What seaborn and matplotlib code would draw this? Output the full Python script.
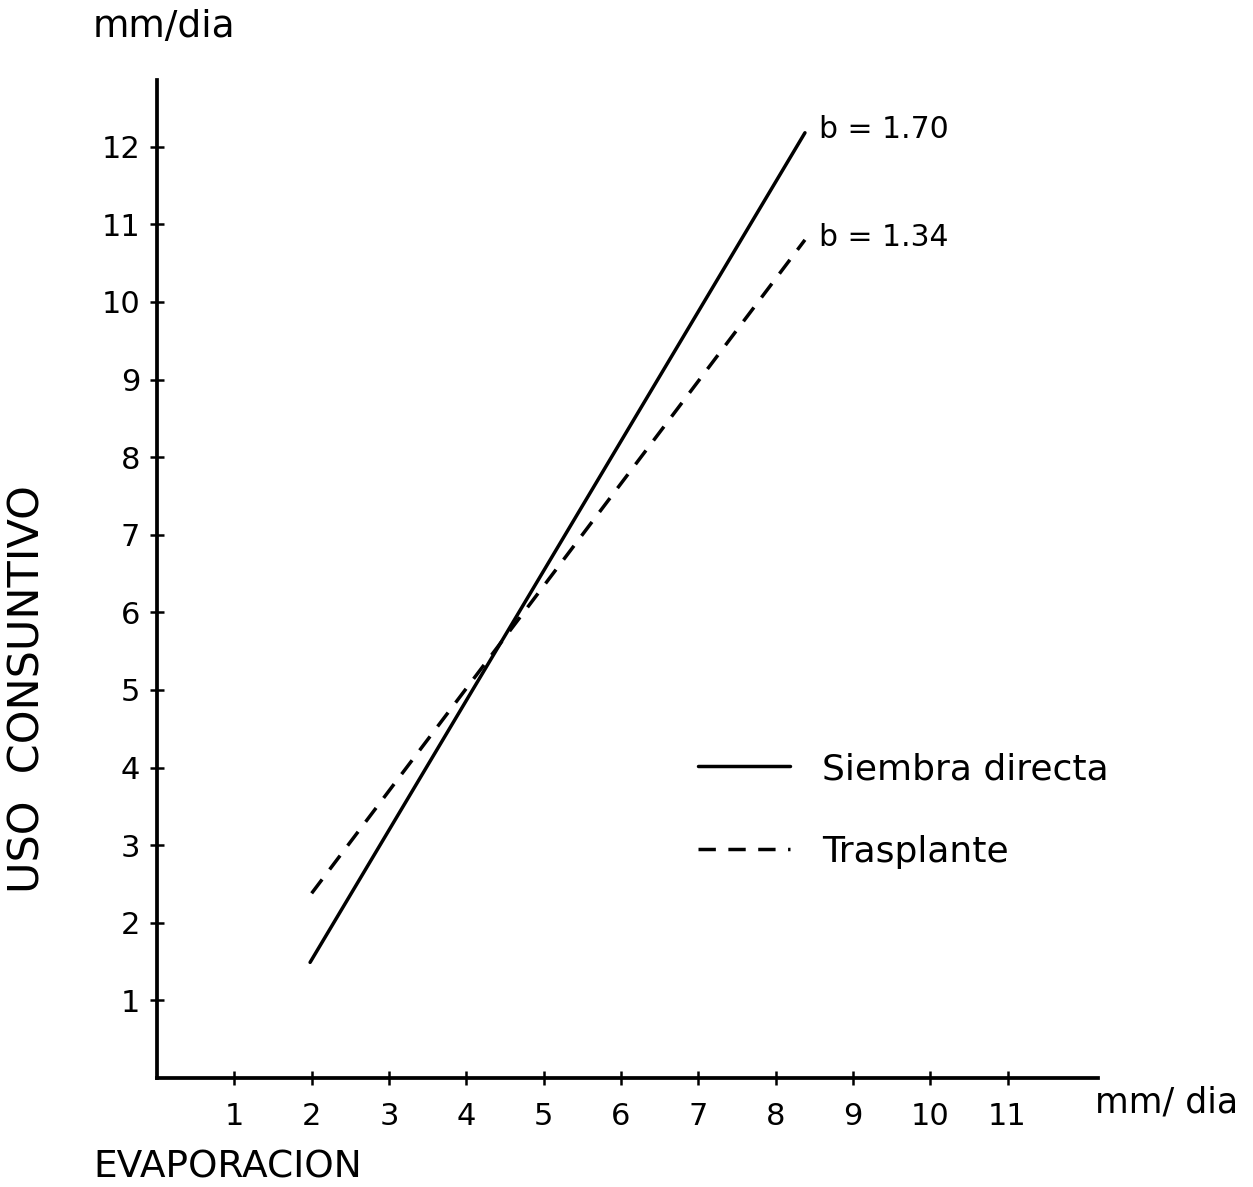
import numpy as np
import pandas as pd
import matplotlib
matplotlib.use("Agg")
import matplotlib.pyplot as plt
import seaborn as sns

# ---- data ----
series_names = ["Siembra directa", "Trasplante"]
evap_siembra = [1.98, 8.38]
uso_siembra = [1.49, 12.18]
evap_trasplante = [2.00, 8.38]
uso_trasplante = [2.38, 10.80]
slope_labels = ["b = 1.70", "b = 1.34"]
x_ticks = [1, 2, 3, 4, 5, 6, 7, 8, 9, 10, 11]
y_ticks = [1, 2, 3, 4, 5, 6, 7, 8, 9, 10, 11, 12]

df = pd.DataFrame({
    "Evaporacion": evap_siembra + evap_trasplante,
    "Uso": uso_siembra + uso_trasplante,
    "Serie": [series_names[0]] * len(evap_siembra) + [series_names[1]] * len(evap_trasplante),
})

sns.set_theme(style="white")
plt.rcParams["font.family"] = ["DejaVu Sans"]
plt.rcParams["text.color"] = "black"
plt.rcParams["axes.labelcolor"] = "black"
plt.rcParams["xtick.color"] = "black"
plt.rcParams["ytick.color"] = "black"

W, H = 1253, 1187
fig = plt.figure(figsize=(W / 100, H / 100), dpi=100)
fig.patch.set_facecolor("white")

def fx(x):
    return x / W

def fy(y):
    return 1 - y / H

ax = fig.add_axes([fx(157), fy(1078), (1098 - 157) / W, (1078 - 80) / H])
ax.set_facecolor("white")

sns.lineplot(data=df, x="Evaporacion", y="Uso", style="Serie",
             dashes={series_names[0]: "", series_names[1]: (5, 3.6)},
             color="black", linewidth=2.5, ax=ax, legend=True)

ax.set_xlim(0, 12.17)
ax.set_ylim(0, 12.86)
ax.set_xticks(x_ticks)
ax.set_yticks(y_ticks)
ax.set_xticklabels([str(v) for v in x_ticks])
ax.set_yticklabels([str(v) for v in y_ticks])
ax.set_xlabel("")
ax.set_ylabel("")
for s in ["top", "right"]:
    ax.spines[s].set_visible(False)
for s in ["left", "bottom"]:
    ax.spines[s].set_color("black")
    ax.spines[s].set_linewidth(2.7)
ax.tick_params(axis="both", which="major", bottom=True, left=True,
               direction="inout", length=10, width=1.8,
               colors="black", labelcolor="black", labelsize=22)
ax.tick_params(axis="x", pad=12)
ax.tick_params(axis="y", pad=7)
ax.grid(False)

# slope labels at the line ends
ax.annotate(slope_labels[0], xy=(evap_siembra[-1], uso_siembra[-1]),
            xytext=(10, 2), textcoords="offset points", fontsize=21.5,
            ha="left", va="center", color="black")
ax.annotate(slope_labels[1], xy=(evap_trasplante[-1], uso_trasplante[-1]),
            xytext=(10, 2), textcoords="offset points", fontsize=21.5,
            ha="left", va="center", color="black")

# legend
handles, labels = ax.get_legend_handles_labels()
leg = ax.legend(handles, labels, loc="upper left",
                bbox_to_anchor=(fx(698), fy(752)), bbox_transform=fig.transFigure,
                frameon=False, fontsize=26, handlelength=2.55,
                handletextpad=0.88, labelspacing=1.35, borderpad=0,
                borderaxespad=0)
for line in leg.get_lines():
    line.set_linewidth(2.5)
for t in leg.get_texts():
    t.set_color("black")

# axis titles
fig.text(fx(93), fy(37), "mm/dia", fontsize=27, ha="left", va="baseline", color="black")
fig.text(fx(1095), fy(1113), "mm/ dia", fontsize=25, ha="left", va="baseline", color="black")
fig.text(fx(93), fy(1178), "EVAPORACION", fontsize=27, ha="left", va="baseline", color="black")
fig.text(fx(28), fy(689), "USO  CONSUNTIVO", fontsize=31, rotation=90,
         ha="center", va="center", color="black")

fig.savefig("out.png", dpi=100, facecolor="white")
